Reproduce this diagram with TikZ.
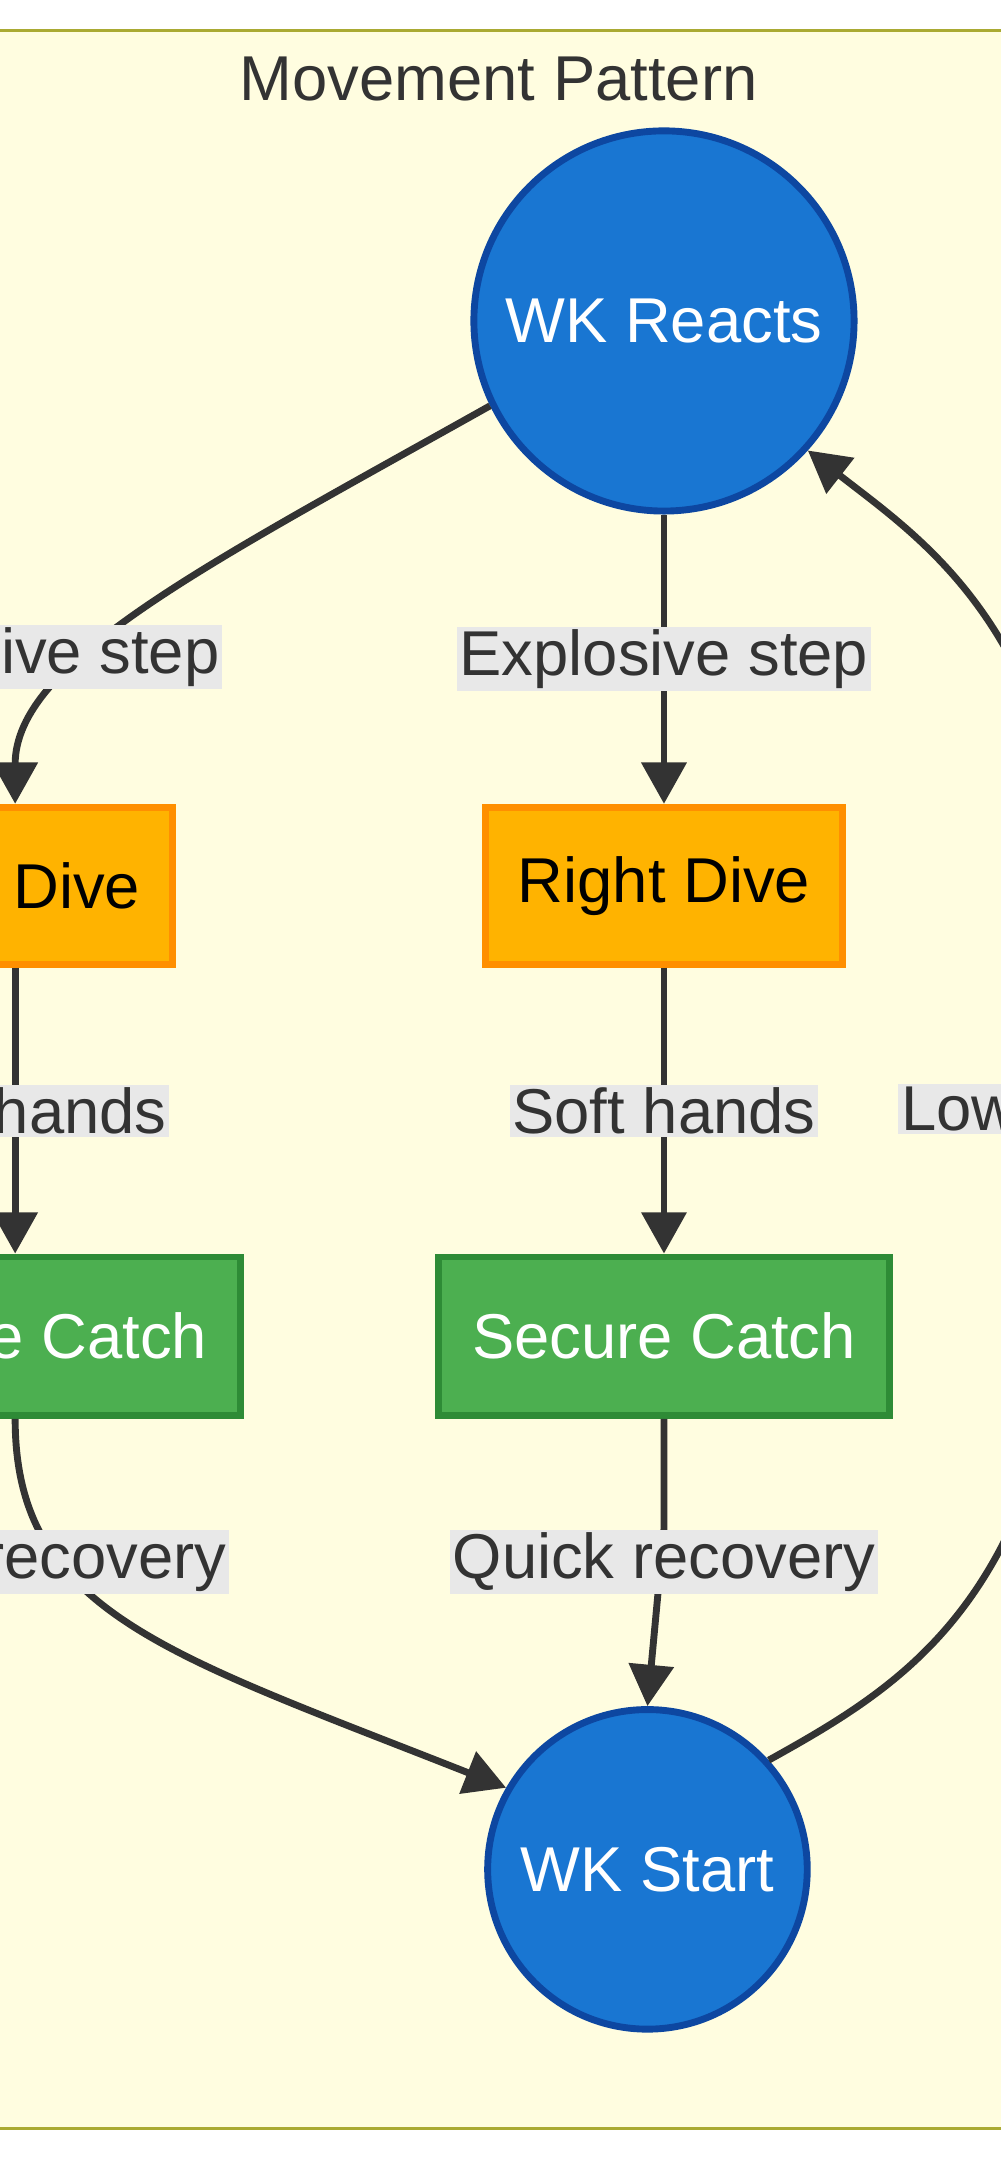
\documentclass[tikz,border=0pt]{standalone}
\usepackage{fontspec}
\setmainfont{Liberation Sans}
\usetikzlibrary{arrows.meta}
\definecolor{clfill}{HTML}{FFFDE0}
\definecolor{clline}{HTML}{AAAA33}
\definecolor{wkblue}{HTML}{1976D2}
\definecolor{wkdark}{HTML}{0D47A1}
\definecolor{divefill}{HTML}{FFB300}
\definecolor{diveline}{HTML}{FF8F00}
\definecolor{catchfill}{HTML}{4CAF50}
\definecolor{catchline}{HTML}{2E8B36}
\definecolor{edgecol}{HTML}{333333}
\definecolor{lblbg}{HTML}{E8E8E8}
\tikzset{
  wk/.style={circle,draw=wkdark,fill=wkblue,line width=5pt,text=white,inner sep=0pt},
  dive/.style={rectangle,draw=diveline,fill=divefill,line width=5pt,inner sep=0pt},
  catch/.style={rectangle,draw=catchline,fill=catchfill,line width=5pt,text=white,inner sep=0pt},
  lbl/.style={fill=lblbg,text=edgecol,inner sep=2pt},
  edge/.style={draw=edgecol,line width=5pt,-{Triangle[length=30pt,width=32pt]}}
}
\begin{document}
\begin{tikzpicture}[x=1pt,y=-1pt,font=\fontsize{46}{52}\selectfont]
  \useasboundingbox (0,0) rectangle (726,1568);
  \draw [clline,fill=clfill,line width=2.5pt] (-200,22) rectangle (900,1545);
  \node [text=edgecol] (title) at (362,57) {Movement Pattern};
  \node [wk,minimum size=276pt] (reacts) at (482,233) {WK Reacts};
  \node [wk,minimum size=232pt] (start) at (470,1357) {WK Start};
  \node [dive,minimum width=259pt,minimum height=114pt] (rdive) at (482,643) {Right Dive};
  \node [dive,minimum width=228pt,minimum height=114pt] (ldive) at (11,643) {Left Dive};
  \node [catch,minimum width=327pt,minimum height=115pt] (rcatch) at (482,970) {Secure Catch};
  \node [catch,minimum width=327pt,minimum height=115pt] (lcatch) at (11,970) {Secure Catch};
  \coordinate (bend) at (482,1110);
  \coordinate (far) at (790,760);
  % edges
  \draw [edge] (reacts) -- node [lbl] {Explosive step} (rdive);
  \draw [edge] (reacts.206) .. controls (150,410) and (11,480) .. (ldive.north);
  \node [lbl] (llbl1) at (11,477) {Explosive step};
  \draw [edge] (rdive) -- node [lbl] {Soft hands} (rcatch);
  \draw [edge] (ldive) -- node [lbl] {Soft hands} (lcatch);
  \draw [edge] (rcatch.south) -- (bend) -- (start.north);
  \node [lbl] (rlbl3) at (482,1134) {Quick recovery};
  \draw [edge] (lcatch.south) .. controls (11,1170) and (120,1200) .. (start.150);
  \node [lbl] (llbl3) at (11,1134) {Quick recovery};
  \draw [edge] (start.42) .. controls (680,1210) and (790,1140) .. (far) .. controls (790,470) and (680,400) .. (reacts.-42);
  \node [lbl,anchor=west] (lowlbl) at (652,805) {Low};
\end{tikzpicture}
\end{document}
